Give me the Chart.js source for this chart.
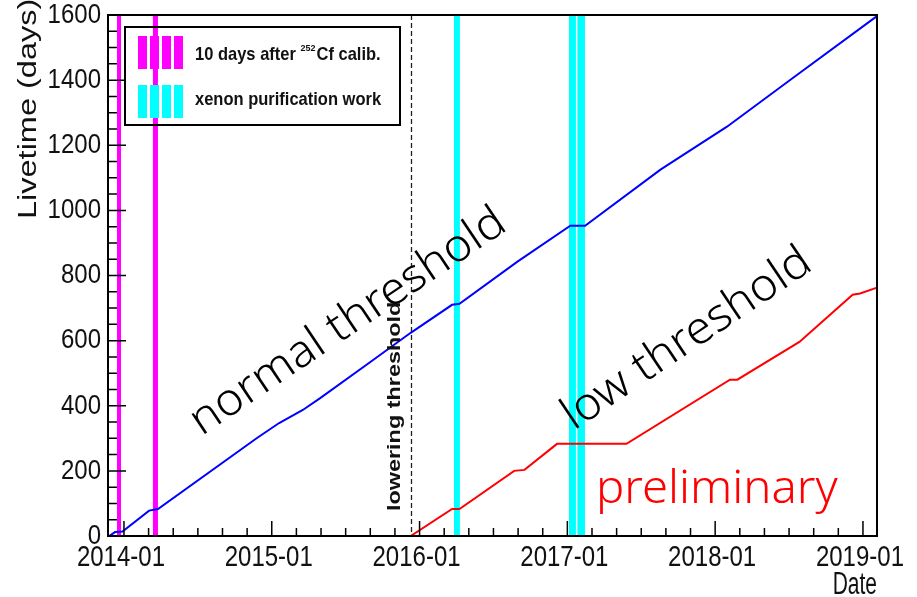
<!DOCTYPE html>
<html>
<head>
<meta charset="utf-8">
<script src="https://cdn.jsdelivr.net/npm/chart.js@4.4.1/dist/chart.umd.min.js"></script>
<style>
    body { margin: 0; background: #fff; }
    canvas { display: block; }
</style>
</head>
<body>
<canvas id="chartCanvas" width="917" height="597"></canvas>
<script>
// dates are decimal years
const normalDates = [2013.90, 2013.94, 2013.99, 2014.17, 2014.23, 2014.90, 2015.05, 2015.21, 2015.33, 2015.66,
    2015.94, 2016.22, 2016.27, 2016.66, 2017.02, 2017.12, 2017.63, 2018.08, 2018.53, 2019.09];
const normalDays = [0, 12, 14, 78, 83, 301, 347, 387, 424, 532,
    624, 710, 713, 842, 953, 953, 1125, 1257, 1408, 1595];

const lowDates = [2015.94, 2016.22, 2016.27, 2016.64, 2016.71, 2016.93, 2017.40, 2018.10, 2018.15, 2018.57, 2018.93, 2018.98, 2019.09];
const lowDays = [0, 83, 83, 200, 203, 283, 283, 480, 480, 596, 741, 745, 762];

// [start, end] of each band
const calibBands = [[2013.953, 2013.980], [2014.196, 2014.230]];
const purificationBands = [[2016.233, 2016.273], [2017.011, 2017.058], [2017.068, 2017.119]];
const lowerThresholdDate = 2015.94;

const yearTicks = [2014, 2015, 2016, 2017, 2018, 2019];
const yearLabels = ["2014-01", "2015-01", "2016-01", "2017-01", "2018-01", "2019-01"];
const dayTicks = [0, 200, 400, 600, 800, 1000, 1200, 1400, 1600];

const rootFont = '"Liberation Sans", Arial, sans-serif';

// texto estirado, como en la imagen original
function stretchedText(ctx, text, x, y, sy, rot, sx) {
    ctx.save();
    ctx.translate(x, y);
    ctx.scale(sx || 1, sy);
    if (rot) ctx.rotate(rot);
    ctx.fillText(text, 0, 0);
    ctx.restore();
}

const decorations = {
    id: 'decorations',
    beforeDatasetsDraw(chart) {
        const { ctx, chartArea: a, scales: { x } } = chart;
        ctx.save();
        const band = (b, color) => {
            const x0 = x.getPixelForValue(b[0]);
            const x1 = x.getPixelForValue(b[1]);
            ctx.fillStyle = color;
            ctx.fillRect(x0, a.top, x1 - x0, a.bottom - a.top);
        };
        calibBands.forEach(b => band(b, '#ff00ff'));
        purificationBands.forEach(b => band(b, '#00ffff'));

        // lowering threshold
        const xl = Math.round(x.getPixelForValue(lowerThresholdDate)) + 0.5;
        ctx.strokeStyle = '#222';
        ctx.lineWidth = 1.3;
        ctx.setLineDash([5, 3]);
        ctx.beginPath();
        ctx.moveTo(xl, a.top);
        ctx.lineTo(xl, a.bottom);
        ctx.stroke();
        ctx.restore();
    },
    afterDatasetsDraw(chart) {
        const { ctx, chartArea: a, scales: { x, y } } = chart;
        ctx.save();

        // frame
        ctx.strokeStyle = '#000';
        ctx.lineWidth = 2;
        ctx.strokeRect(a.left, a.top, a.right - a.left, a.bottom - a.top);

        // ticks
        ctx.lineWidth = 1.5;
        ctx.beginPath();
        for (let yr = yearTicks[0] - 1; yr <= yearTicks[yearTicks.length - 1]; yr++) {
            for (let k = 0; k < 6; k++) {
                const v = yr + k / 6;
                if (v < x.min || v > x.max) continue;
                const px = x.getPixelForValue(v);
                ctx.moveTo(px, a.bottom);
                ctx.lineTo(px, a.bottom - (k === 0 ? 15 : 8));
            }
        }
        for (let d = 0; d <= 1600; d += 50) {
            const py = y.getPixelForValue(d);
            ctx.moveTo(a.left, py);
            ctx.lineTo(a.left + (d % 200 === 0 ? 18 : 9), py);
        }
        ctx.stroke();

        // tick labels
        ctx.fillStyle = '#111';
        ctx.font = '24px ' + rootFont;
        ctx.textAlign = 'center';
        ctx.textBaseline = 'alphabetic';
        yearTicks.forEach((t, i) => {
            stretchedText(ctx, yearLabels[i], x.getPixelForValue(t) - 3, 566, 1.22);
        });
        ctx.textAlign = 'right';
        ctx.textBaseline = 'middle';
        dayTicks.forEach(d => {
            stretchedText(ctx, String(d), 101, y.getPixelForValue(d), 1.18);
        });

        // axis titles
        ctx.font = '26px ' + rootFont;
        ctx.textAlign = 'left';
        ctx.textBaseline = 'middle';
        stretchedText(ctx, 'Livetime (days)', 29, 219, 1.25, -Math.PI / 2);
        ctx.font = '21px ' + rootFont;
        ctx.textAlign = 'right';
        ctx.textBaseline = 'alphabetic';
        stretchedText(ctx, 'Date', a.right, 594, 1.45);

        // lowering threshold
        ctx.font = 'bold 18px ' + rootFont;
        ctx.textAlign = 'left';
        ctx.textBaseline = 'middle';
        stretchedText(ctx, 'lowering threshold', 395, 511, 1.3, -Math.PI / 2);

        // legend
        ctx.lineWidth = 2;
        ctx.strokeStyle = '#000';
        ctx.strokeRect(125, 27, 275, 98);
        const swatch = (top, color) => {
            ctx.fillStyle = color;
            for (let i = 0; i < 4; i++) ctx.fillRect(138 + i * 12, top, 9, 33);
        };
        swatch(36, '#ff00ff');
        swatch(85, '#00ffff');
        ctx.fillStyle = '#111';
        ctx.font = 'bold 16.5px ' + rootFont;
        ctx.textAlign = 'left';
        ctx.textBaseline = 'middle';
        stretchedText(ctx, '10 days after', 195, 55, 1.12);
        let w = ctx.measureText('10 days after ').width;
        ctx.font = 'bold 9px ' + rootFont;
        stretchedText(ctx, '252', 195 + w, 48, 1.1);
        const w2 = ctx.measureText('252').width;
        ctx.font = 'bold 16.5px ' + rootFont;
        stretchedText(ctx, 'Cf calib.', 195 + w + w2 + 1, 55, 1.12);
        stretchedText(ctx, 'xenon purification work', 195, 100, 1.12);

        // annotations
        ctx.fillStyle = '#000';
        ctx.font = '300 45px "Noto Sans", sans-serif';
        ctx.textAlign = 'center';
        ctx.textBaseline = 'middle';
        const rot = -34 * Math.PI / 180;
        [['normal threshold', 348, 322], ['low threshold', 687, 339]].forEach(([t, cx, cy]) => {
            ctx.save();
            ctx.translate(cx, cy);
            ctx.rotate(rot);
            ctx.scale(1.05, 1);
            ctx.fillText(t, 0, 0);
            ctx.restore();
        });
        ctx.fillStyle = '#ff0000';
        ctx.font = '300 45px "Noto Sans", sans-serif';
        ctx.textAlign = 'left';
        ctx.textBaseline = 'alphabetic';
        stretchedText(ctx, 'preliminary', 596, 503, 1, 0, 1.05);

        ctx.restore();
    }
};

const toPoints = (xs, ys) => xs.map((v, i) => ({ x: v, y: ys[i] }));

new Chart(document.getElementById('chartCanvas'), {
    type: 'line',
    data: {
        datasets: [{
            label: 'normal threshold',
            data: toPoints(normalDates, normalDays),
            borderColor: '#0000ff',
            borderWidth: 2,
            pointRadius: 0,
            tension: 0
        }, {
            label: 'low threshold',
            data: toPoints(lowDates, lowDays),
            borderColor: '#ff0000',
            borderWidth: 2,
            pointRadius: 0,
            tension: 0
        }]
    },
    options: {
        responsive: false,
        animation: false,
        devicePixelRatio: 1,
        layout: { padding: { left: 108, top: 15, right: 40, bottom: 61 } },
        scales: {
            x: { type: 'linear', min: 2013.892, max: 2019.095, display: false },
            y: { type: 'linear', min: 0, max: 1600, display: false }
        },
        plugins: {
            legend: { display: false },
            tooltip: { enabled: false }
        }
    },
    plugins: [decorations]
});
</script>
</body>
</html>
